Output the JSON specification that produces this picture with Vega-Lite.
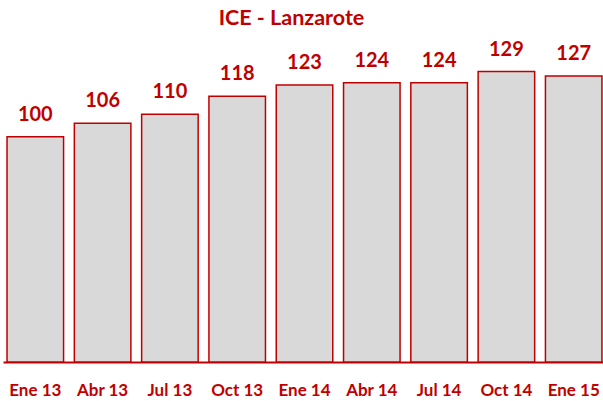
{
  "$schema": "https://vega.github.io/schema/vega-lite/v6.json",
  "autosize": "none",
  "width": 603,
  "height": 322,
  "padding": {"left": 3, "top": 40, "right": 0, "bottom": 39},
  "background": "white",
  "title": {
    "text": "ICE - Lanzarote",
    "font": "Lato",
    "fontSize": 21.5,
    "fontWeight": "bold",
    "color": "#C00000",
    "anchor": "middle",
    "offset": 10,
    "dx": -13
  },
  "config": {"view": {"stroke": null}},
  "data": {
    "values": [
      {"periodo": "Ene 13", "valor": 100},
      {"periodo": "Abr 13", "valor": 106},
      {"periodo": "Jul 13", "valor": 110},
      {"periodo": "Oct 13", "valor": 118},
      {"periodo": "Ene 14", "valor": 123},
      {"periodo": "Abr 14", "valor": 124},
      {"periodo": "Jul 14", "valor": 124},
      {"periodo": "Oct 14", "valor": 129},
      {"periodo": "Ene 15", "valor": 127}
    ]
  },
  "encoding": {
    "x": {
      "field": "periodo",
      "type": "nominal",
      "sort": null,
      "scale": {"paddingInner": 0.16, "paddingOuter": 0.06},
      "axis": {
        "title": null,
        "labelAngle": 0,
        "ticks": false,
        "domainColor": "#C00000",
        "domainWidth": 2,
        "labelColor": "#C00000",
        "labelFont": "Lato",
        "labelFontSize": 17,
        "labelFontWeight": "bold",
        "labelPadding": 20
      }
    },
    "y": {
      "field": "valor",
      "type": "quantitative",
      "scale": {"domain": [0, 143], "nice": false},
      "axis": null
    }
  },
  "layer": [
    {
      "mark": {"type": "bar", "fill": "#D9D9D9", "stroke": "#C00000", "strokeWidth": 1.5}
    },
    {
      "mark": {
        "type": "text",
        "baseline": "alphabetic",
        "dy": -16,
        "font": "Lato",
        "fontSize": 20,
        "fontWeight": "bold",
        "color": "#C00000"
      },
      "encoding": {"text": {"field": "valor", "type": "quantitative"}}
    }
  ]
}
